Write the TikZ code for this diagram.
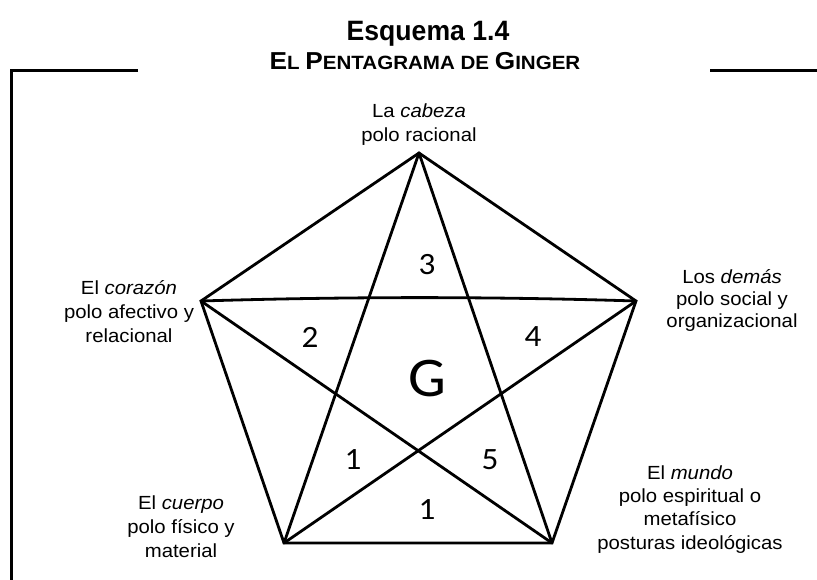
\documentclass[tikz,border=0pt]{standalone}
\usepackage{fontspec}
\setmainfont{Liberation Sans}[FakeStretch=1.07]
\newfontfamily\labelfont{Liberation Sans}[FakeStretch=1.07]
\newfontfamily\titlefont{Liberation Sans}[FakeStretch=0.95]
\newfontfamily\numfont{Carlito}[FakeStretch=1.07]
\begin{document}
\begin{tikzpicture}[x=1pt,y=-1pt,
  edge/.style={line width=2.8pt,line cap=round},
  frameline/.style={line width=3pt},
  pole/.style={align=center,anchor=base,inner sep=0pt,font=\labelfont\fontsize{19}{24}\selectfont},
  num/.style={inner sep=0pt,font=\numfont\fontsize{31}{31}\selectfont}]
\useasboundingbox (0,0) rectangle (817,580);
% frame
\coordinate (fa) at (138,71);
\coordinate (fb) at (11,71);
\coordinate (fc) at (11,582);
\coordinate (fd) at (710,71);
\coordinate (fe) at (818,71);
\draw[frameline] (fa) -- (fb) -- (fc);
\draw[frameline] (fd) -- (fe);
% titles
\node[anchor=base,inner sep=0pt,font=\titlefont\fontsize{28}{30}\selectfont\bfseries] (title) at (428,41) {Esquema 1.4};
\node[anchor=base,inner sep=0pt,font=\bfseries] (sub) at (425,70) {\fontsize{24.5}{26}\selectfont E\fontsize{19.2}{26}\selectfont L \fontsize{24.5}{26}\selectfont P\fontsize{19.2}{26}\selectfont ENTAGRAMA DE \fontsize{24.5}{26}\selectfont G\fontsize{19.2}{26}\selectfont INGER};
% vertices
\coordinate (T) at (419,153);
\coordinate (L) at (201,301);
\coordinate (R) at (636,301);
\coordinate (BL) at (284,543);
\coordinate (BR) at (552,543);
% pentagon
\draw[edge,line join=miter] (T) -- (R) -- (BR) -- (BL) -- (L) -- cycle;
% star
\draw[edge] (T) -- (BL);
\draw[edge] (T) -- (BR);
\draw[edge] (L) -- (BR);
\draw[edge] (R) -- (BL);
\draw[edge] (L) .. controls (350,296.5) and (490,296.5) .. (R);
% numbers
\node[num] (n3) at (427,265) {3};
\node[num] (n2) at (310,337) {2};
\node[num] (n4) at (533,337) {4};
\node[inner sep=0pt,font=\numfont\fontsize{56}{56}\selectfont] (g) at (427,379) {G};
\node[num] (n1a) at (353,460) {1};
\node[num] (n5) at (490,460) {5};
\node[num] (n1b) at (427,510) {1};
% pole labels (anchor = baseline of last line)
\node[pole] (top) at (419,142) {La \textit{cabeza}\\polo racional};
\node[pole] (left) at (129,342) {El \textit{corazón}\\polo afectivo y\\relacional};
\node[pole,font=\labelfont\fontsize{19}{22}\selectfont] (right) at (732,327) {Los \textit{demás}\\polo social y\\organizacional};
\node[pole] (bl) at (181,557) {El \textit{cuerpo}\\polo físico y\\material};
\node[pole,font=\labelfont\fontsize{19}{23.3}\selectfont] (br) at (690,549) {El \textit{mundo}\\polo espiritual o\\metafísico\\posturas ideológicas};
\end{tikzpicture}
\end{document}
